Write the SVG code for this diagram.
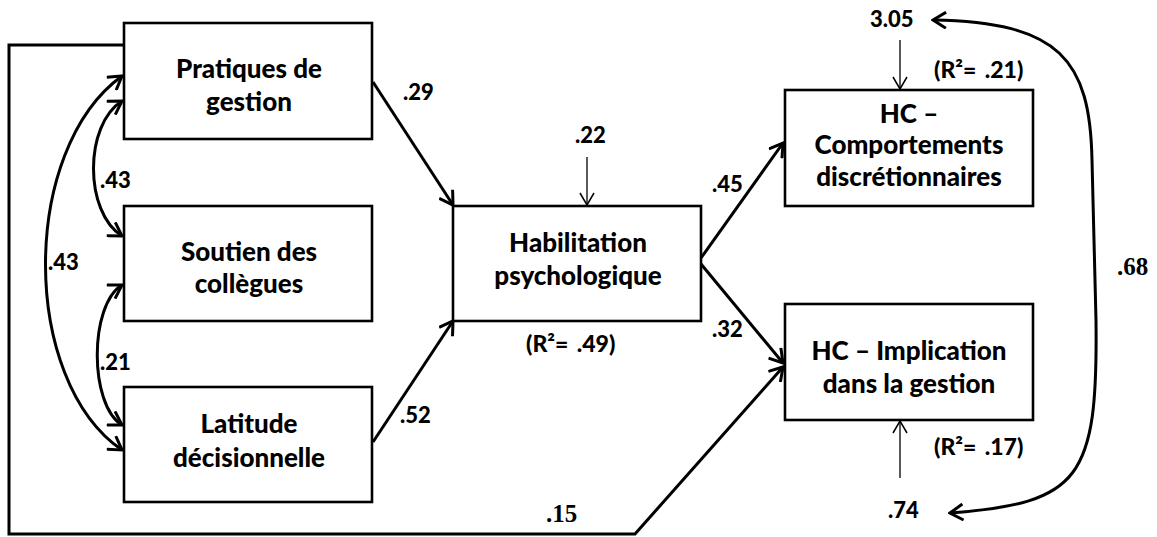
<svg xmlns="http://www.w3.org/2000/svg" width="1157" height="537" viewBox="0 0 1157 537">
<style>
.box{fill:#fff;stroke:#000;stroke-width:2.6}
.t{font-family:Lato,"Open Sans","Liberation Sans",sans-serif;font-weight:900;font-size:26px;fill:#000;text-anchor:middle}
.l{font-family:Lato,"Open Sans","Liberation Sans",sans-serif;font-weight:900;font-size:22px;fill:#000}
.r{font-family:Lato,"Open Sans","Liberation Sans",sans-serif;font-weight:900;font-size:23px;fill:#000;word-spacing:3px}
.s{font-family:"Liberation Serif","DejaVu Serif",serif;font-weight:bold;font-size:25px;fill:#000}
.c{fill:none;stroke:#000;stroke-width:3}
.thin{fill:none;stroke:#000;stroke-width:1.3}
</style>
<defs>
<marker id="ah" markerUnits="userSpaceOnUse" viewBox="-14 -9 16 18" markerWidth="16" markerHeight="18" refX="0" refY="0" orient="auto-start-reverse">
<path d="M-13,-8 L0,0 L-13,8" fill="none" stroke="#000" stroke-width="3"/>
</marker>
<marker id="ahT" markerUnits="userSpaceOnUse" viewBox="-14 -9 16 18" markerWidth="16" markerHeight="18" refX="0" refY="0" orient="auto">
<path d="M-12,-7 L0,0 L-12,7" fill="none" stroke="#000" stroke-width="1.5"/>
</marker>
</defs>
<g id="connectors">
<path class="c" d="M124,45 L9,45 L9,534 L635,534 L783,367" marker-end="url(#ah)"/>
<path class="c" d="M373,82 L453,205" marker-end="url(#ah)"/>
<path class="c" d="M373,442 L453,321" marker-end="url(#ah)"/>
<path class="c" d="M701,258 L783,143" marker-end="url(#ah)"/>
<path class="c" d="M701,264 L783,363" marker-end="url(#ah)"/>
<path class="c" d="M122,101 C84,125 84,212 122,236" marker-start="url(#ah)" marker-end="url(#ah)"/>
<path class="c" d="M122,285 C89,305 89,405 122,425" marker-start="url(#ah)" marker-end="url(#ah)"/>
<path class="c" d="M122,76 C20,150 20,380 122,450" marker-start="url(#ah)" marker-end="url(#ah)"/>
<path class="c" d="M933,20 C1060,22 1090,60 1092,160 L1096,320 C1098,480 1080,503 950,513" marker-start="url(#ah)" marker-end="url(#ah)"/>
<path class="thin" d="M587,157 L587,205" marker-end="url(#ahT)"/>
<path class="thin" d="M900,40 L900,89" marker-end="url(#ahT)"/>
<path class="thin" d="M900,478 L900,421" marker-end="url(#ahT)"/>
</g>
<g id="n-pratiques">
<rect class="box" x="124" y="23" width="248" height="116"/>
<text class="t" x="249" y="78">Pratiques de</text>
<text class="t" x="249" y="111">gestion</text>
</g>
<g id="n-soutien">
<rect class="box" x="124" y="206" width="248" height="115"/>
<text class="t" x="249" y="261">Soutien des</text>
<text class="t" x="249" y="293">collègues</text>
</g>
<g id="n-latitude">
<rect class="box" x="124" y="387" width="248" height="115"/>
<text class="t" x="249" y="433">Latitude</text>
<text class="t" x="249" y="467">décisionnelle</text>
</g>
<g id="n-habilitation">
<rect class="box" x="453" y="206" width="248" height="115"/>
<text class="t" x="578" y="252">Habilitation</text>
<text class="t" x="578" y="285">psychologique</text>
</g>
<g id="n-hc-comportements">
<rect class="box" x="785" y="90" width="248" height="116"/>
<text class="t" x="909" y="123">HC –</text>
<text class="t" x="909" y="154">Comportements</text>
<text class="t" x="909" y="186">discrétionnaires</text>
</g>
<g id="n-hc-implication">
<rect class="box" x="785" y="304" width="248" height="116"/>
<text class="t" x="909" y="360">HC – Implication</text>
<text class="t" x="909" y="393">dans la gestion</text>
</g>
<g id="labels">
<text class="l" x="403" y="100">.29</text>
<text class="l" x="100" y="188">.43</text>
<text class="l" x="48" y="270">.43</text>
<text class="l" x="100" y="370">.21</text>
<text class="l" x="400" y="423">.52</text>
<text class="l" x="575" y="143">.22</text>
<text class="r" x="526" y="352">(R²= .49)</text>
<text class="l" x="712" y="192">.45</text>
<text class="l" x="712" y="337">.32</text>
<text class="l" x="870" y="27">3.05</text>
<text class="r" x="934" y="78">(R²= .21)</text>
<text class="r" x="934" y="455">(R²= .17)</text>
<text class="l" x="888" y="518">.74</text>
<text class="s" x="546" y="522">.15</text>
<text class="s" x="1117" y="275">.68</text>
</g>
</svg>
